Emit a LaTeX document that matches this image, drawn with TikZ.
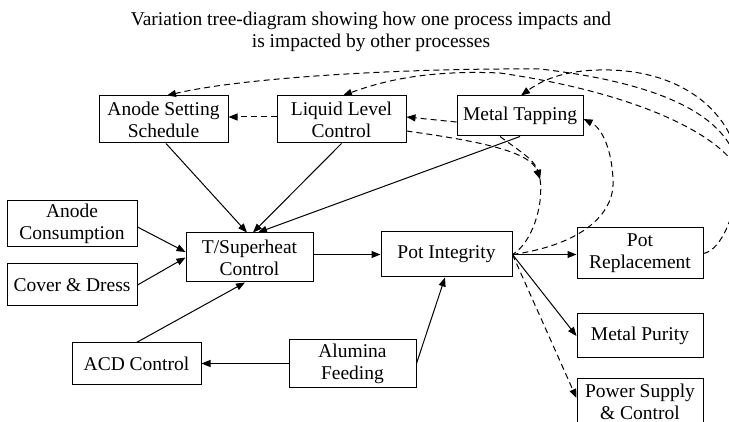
\documentclass[tikz,border=0pt]{standalone}
\usepackage{fontspec}
\setmainfont{Liberation Serif}
\usetikzlibrary{arrows.meta}
\begin{document}
\begin{tikzpicture}[x=1pt,y=-1pt,
  every node/.style={font=\fontsize{19.5}{22}\selectfont,inner sep=0pt},
  box/.style={draw,line width=1pt,align=center},
  link/.style={line width=1pt,-{Triangle[length=9pt,width=7pt]}},
  dlink/.style={link,dash pattern=on 6pt off 4pt},
  dline/.style={line width=1pt,dash pattern=on 6pt off 4pt}]
\useasboundingbox (0,0) rectangle (729,422);

% title
\node[align=center] (title) at (371,31.5)
  {Variation tree-diagram showing how one process impacts and\\is impacted by other processes};

% process boxes
\node[box,minimum width=129pt,minimum height=47pt] (ass) at (163.5,119.5) {Anode Setting\\Schedule};
\node[box,minimum width=129pt,minimum height=47pt] (llc) at (341.5,119.5) {Liquid Level\\Control};
\node[box,minimum width=126pt,minimum height=40pt] (mt)  at (520,116) {Metal Tapping};
\node[box,minimum width=130pt,minimum height=46pt] (ac)  at (72,224) {Anode\\Consumption};
\node[box,minimum width=130pt,minimum height=42pt] (cd)  at (72,285) {Cover \& Dress};
\node[box,minimum width=127pt,minimum height=49pt] (ts)  at (249.5,257.5) {T/Superheat\\Control};
\node[box,minimum width=131pt,minimum height=45pt] (pi)  at (446.5,254.5) {Pot Integrity};
\node[box,minimum width=126pt,minimum height=51pt] (pr)  at (640,253.5) {Pot\\Replacement};
\node[box,minimum width=126pt,minimum height=44pt] (mp)  at (640,336) {Metal Purity};
\node[box,minimum width=126pt,minimum height=47pt] (ps)  at (640,401.5) {Power Supply\\\& Control};
\node[box,minimum width=129pt,minimum height=41pt] (acd) at (136.5,363.5) {ACD Control};
\node[box,minimum width=127pt,minimum height=47pt] (af)  at (352.5,363.5) {Alumina\\Feeding};

% direct impacts
\draw[link] ([xshift=2.5pt]ass.south) -- ([xshift=-2.5pt]ts.north);
\draw[link] (llc.south) -- ([xshift=3.5pt]ts.north);
\draw[link] (mt.south) -- ([xshift=8.5pt]ts.north);
\draw[link] ([yshift=-3pt]ac.east) -- ([yshift=5.5pt]ts.west);
\draw[link] (cd.east) -- (ts.west);
\draw[link] (acd.north) -- ([xshift=-4.5pt]ts.south);
\draw[link] (af.west) -- (acd.east);
\draw[link] (af.east) -- ([xshift=-1.5pt]pi.south);
\draw[link] (ts.east |- pi.west) -- (pi.west);
\draw[link] (pi.east) -- (pr.west |- pi.east);
\draw[link] (pi.east) -- (mp.west);

% feedback impacts
\draw[dlink] (pi.east) -- ([yshift=3.5pt]ps.west);
\draw[dlink] ([yshift=2.5pt]llc.west) -- ([yshift=2.5pt]ass.east);
\draw[dlink] ([yshift=-6pt]mt.west) -- ([yshift=2.5pt]llc.east);

\coordinate (J) at (540,179);
\draw[dlink] ([yshift=-11.5pt]llc.east) .. controls (470,140) and (530,150) .. (J);
\draw[dlink] ([xshift=-20pt]mt.south) .. controls (518,150) and (535,160) .. (J);
\draw[dline] (J) .. controls (544,205) and (532,243) .. (pi.east);

\draw[dlink] (pi.east) .. controls (580,245) and (615,215) .. (613,180)
  .. controls (612,150) and (602,128) .. ([yshift=-3pt]mt.east);

\coordinate (K) at (739,172);
\draw[dline] (pr.east) .. controls (722,250) and (737,212) .. (K);
\draw[dlink] (K) .. controls (733,120) and (670,84) .. (540,69)
  .. controls (400,68) and (240,78) .. ([xshift=3.5pt]ass.north);
\draw[dlink] (K) .. controls (725,140) and (650,95) .. (500,73)
  .. controls (430,70) and (385,80) .. ([xshift=1.5pt]llc.north);
\draw[dlink] (K) .. controls (738,120) and (690,72) .. (610,70)
  .. controls (570,69) and (545,78) .. ([xshift=1pt]mt.north);
\end{tikzpicture}
\end{document}
